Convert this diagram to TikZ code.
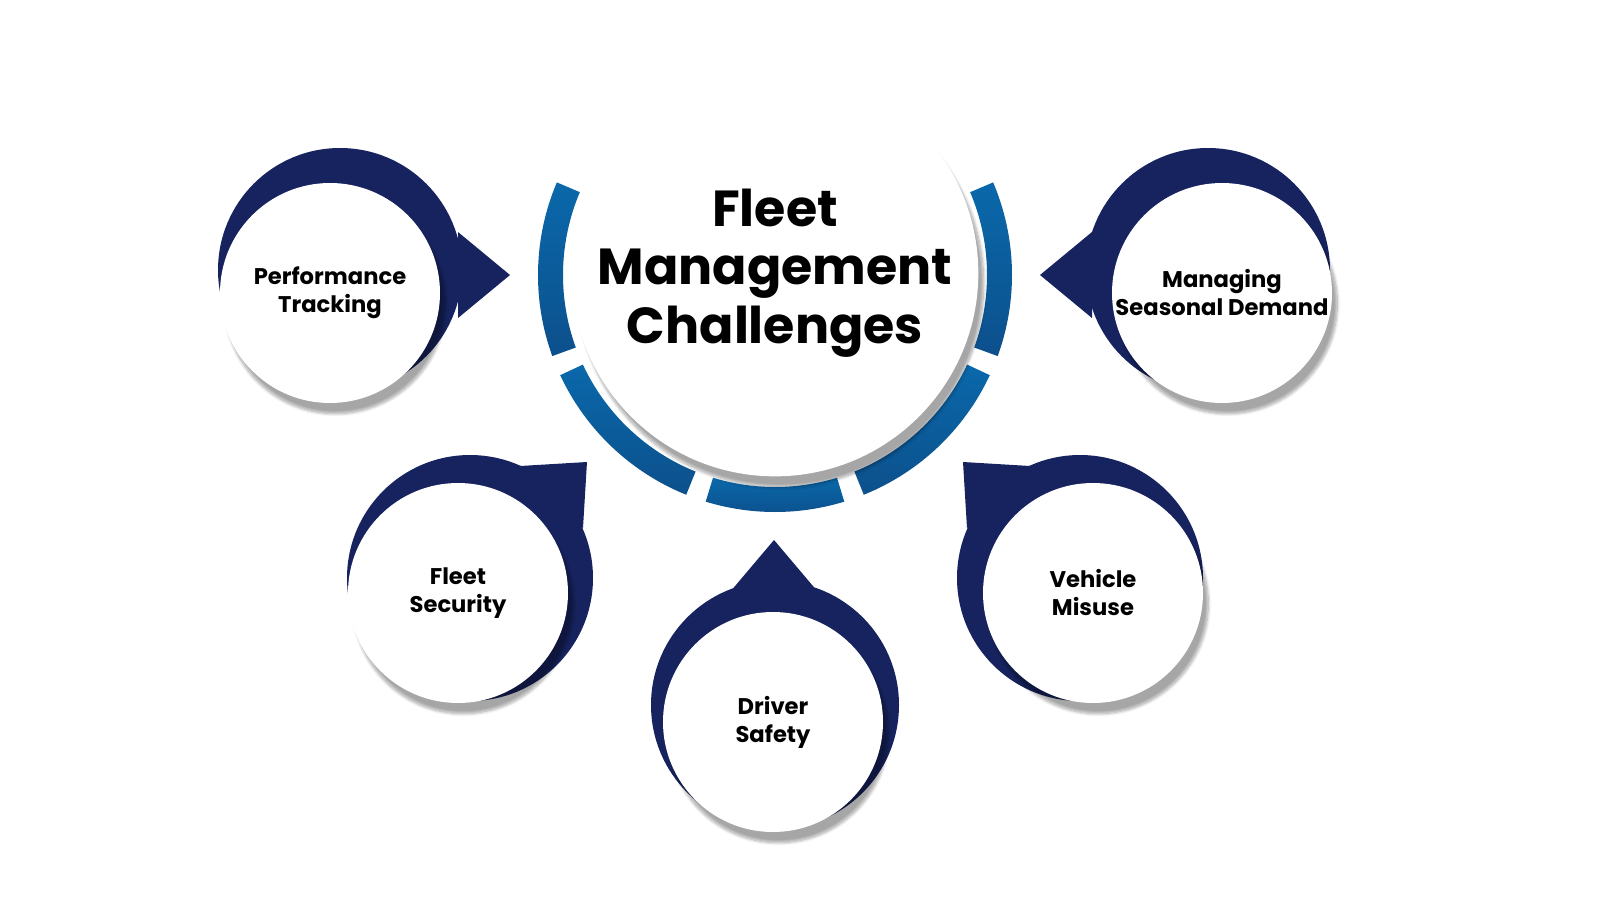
\documentclass[tikz,border=0pt]{standalone}
\usepackage{fontspec}
\setmainfont{Poppins}
\usetikzlibrary{shadows.blur,calc}
\definecolor{navy}{RGB}{22,35,94}
\definecolor{ringblue}{RGB}{10,104,170}
\definecolor{ringdark}{RGB}{12,80,140}
\tikzset{every picture/.style={line width=0.75pt}}
\tikzset{
  bubble/.style={circle,fill=white,minimum size=165pt,inner sep=0pt,align=center,
    font=\bfseries\fontsize{17}{21}\selectfont,
    blur shadow={shadow xshift=4pt,shadow yshift=-8pt,shadow blur steps=8,shadow opacity=35}},
  backdisc/.style={fill=navy},
  ringseg/.style={top color=ringblue,bottom color=ringdark,draw=none}
}
\begin{document}
\begin{tikzpicture}[x=0.75pt,y=0.75pt,yscale=-1,xscale=1]
\useasboundingbox (0,0) rectangle (1600,900);

%Shape: Ring segments
\foreach \a/\b in {157/200,205/248,253/287,292/335,340/383}{
  \path[ringseg] ($(775,275)+(-\a:237)$) arc[start angle=-\a,end angle=-\b,radius=237]
    -- ($(775,275)+(-\b:212)$) arc[start angle=-\b,end angle=-\a,radius=212] -- cycle;
}

%Shape: Back discs and pointers
\fill[backdisc] (340,270) circle[radius=122];
\fill[backdisc] (458,232) -- (510,275) -- (458,318) -- cycle;
\fill[backdisc] (1208,270) circle[radius=122];
\fill[backdisc] (1092,232) -- (1040,275) -- (1092,318) -- cycle;
\fill[backdisc] (470,578) circle[radius=123];
\fill[backdisc] (520,466) -- (587,462) -- (583,528) -- cycle;
\fill[backdisc] (1080,578) circle[radius=123];
\fill[backdisc] (1030,466) -- (963,462) -- (967,528) -- cycle;
\fill[backdisc] (775,705) circle[radius=124];
\fill[backdisc] (730,592) -- (774,540) -- (818,592) -- cycle;

%Shape: Centre circle
\node[bubble,minimum size=305pt,font=\bfseries\fontsize{38}{44}\selectfont] (centre) at (775,273)
  {Fleet\\Management\\Challenges};

%Text Node: outer circles
\node[bubble] (perf) at (330,293) {Performance\\Tracking};
\node[bubble] (season) at (1222,293) {Managing\\Seasonal Demand};
\node[bubble] (security) at (458,593) {Fleet\\Security};
\node[bubble] (misuse) at (1093,593) {Vehicle\\Misuse};
\node[bubble] (driver) at (773,722) {Driver\\Safety};

\end{tikzpicture}
\end{document}
